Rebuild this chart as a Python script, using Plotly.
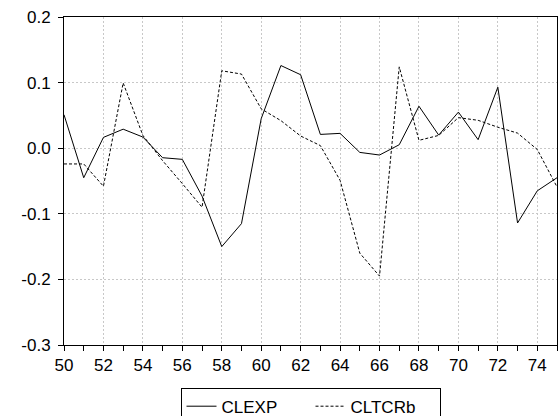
import plotly.graph_objects as go

years = list(range(50, 76))
clexp = [0.051, -0.045, 0.0165, 0.029, 0.017, -0.0145, -0.017, -0.073, -0.150, -0.115,
         0.045, 0.126, 0.112, 0.021, 0.0226, -0.0064, -0.0104, 0.0053, 0.064, 0.020,
         0.055, 0.013, 0.093, -0.114, -0.065, -0.045]
cltcrb = [-0.024, -0.024, -0.058, 0.0995, 0.0195, -0.019, -0.054, -0.090, 0.118, 0.113,
          0.060, 0.042, 0.0186, 0.004, -0.049, -0.160, -0.195, 0.124, 0.012, 0.0195,
          0.0466, 0.0425, 0.032, 0.023, -0.002, -0.059]

y_tickvals = [0.2, 0.1, 0.0, -0.1, -0.2, -0.3]
y_ticktext = ["0.2", "0.1", "0.0", "-0.1", "-0.2", "-0.3"]
x_tickvals = list(range(50, 76, 2))
x_ticktext = [str(v) for v in x_tickvals]

fig = go.Figure()
fig.add_trace(go.Scatter(x=years, y=clexp, mode="lines", name="CLEXP",
                         line=dict(color="black", width=1)))
fig.add_trace(go.Scatter(x=years, y=cltcrb, mode="lines", name="CLTCRb",
                         line=dict(color="black", width=1, dash="3px,2px")))

fig.update_layout(
    width=558, height=416,
    margin=dict(l=64, r=1, t=17, b=71, autoexpand=False),
    paper_bgcolor="white", plot_bgcolor="white",
    font=dict(family="Liberation Sans, Arial, sans-serif", size=17, color="black"),
    showlegend=True,
    legend=dict(orientation="h", x=0.5, xanchor="center", y=-0.13, yanchor="top",
                bordercolor="black", borderwidth=1, bgcolor="white",
                font=dict(size=17), itemwidth=30, tracegroupgap=0,
                entrywidth=84, entrywidthmode="pixels"),
)
fig.update_xaxes(range=[50, 75], tickvals=x_tickvals, ticktext=x_ticktext,
                 ticks="outside", ticklen=5, tickcolor="black",
                 showline=True, linecolor="black", linewidth=1, mirror=True,
                 showgrid=True, gridcolor="#c8c8c8", griddash="2px,2px", gridwidth=1,
                 minor=dict(ticks="outside", dtick=1, tick0=50, ticklen=5, tickcolor="black", showgrid=False),
                 zeroline=False, automargin=False)
fig.update_yaxes(range=[-0.3, 0.2], tickvals=y_tickvals, ticktext=y_ticktext,
                 ticks="outside", ticklen=5, tickcolor="black", ticklabelstandoff=4,
                 showline=True, linecolor="black", linewidth=1, mirror=True,
                 showgrid=True, gridcolor="#c8c8c8", griddash="2px,2px", gridwidth=1,
                 zeroline=False, automargin=False)

fig.write_html("out.html")
